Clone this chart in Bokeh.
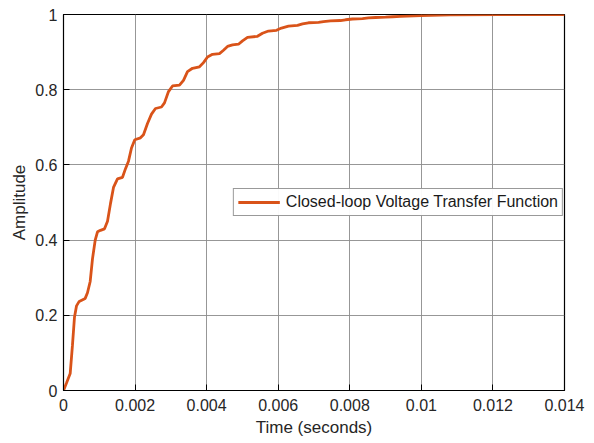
from bokeh.plotting import figure
from bokeh.models import Range1d, FixedTicker, Legend, LegendItem
from bokeh.embed import file_html
from bokeh.resources import INLINE

# Step response
time_s = [0.0, 0.000084, 0.000187, 0.00025, 0.000307, 0.000363, 0.000439, 0.000606,
          0.00067, 0.000746, 0.00081, 0.000886, 0.00095, 0.001034, 0.001146, 0.00123,
          0.001313, 0.001397, 0.001509, 0.001649, 0.001733, 0.001816, 0.0019, 0.001992,
          0.002152, 0.002235, 0.002347, 0.002459, 0.00257, 0.002738, 0.002822, 0.002934,
          0.003046, 0.003241, 0.003353, 0.003465, 0.003605, 0.0038, 0.003912, 0.004024,
          0.004164, 0.004359, 0.004471, 0.004583, 0.004723, 0.00489, 0.005002, 0.005142,
          0.00542, 0.00556, 0.005728, 0.005952, 0.006092, 0.006287, 0.006539, 0.006679,
          0.006846, 0.007126, 0.007266, 0.007461, 0.00774, 0.00788, 0.008076, 0.008355,
          0.008523, 0.008719, 0.008998, 0.009194, 0.009417, 0.009976, 0.010814, 0.012211,
          0.014]
amplitude = [0.0, 0.02, 0.045, 0.12, 0.195, 0.225, 0.237, 0.245,
             0.26, 0.29, 0.35, 0.40, 0.422, 0.426, 0.43, 0.45,
             0.497, 0.54, 0.563, 0.567, 0.59, 0.61, 0.645, 0.667,
             0.672, 0.68, 0.71, 0.735, 0.75, 0.754, 0.765, 0.795,
             0.81, 0.812, 0.825, 0.848, 0.857, 0.861, 0.872, 0.887,
             0.894, 0.896, 0.905, 0.915, 0.919, 0.921, 0.93, 0.939,
             0.942, 0.95, 0.956, 0.958, 0.964, 0.969, 0.971, 0.975,
             0.978, 0.979, 0.981, 0.983, 0.984, 0.986, 0.988, 0.989,
             0.991, 0.992, 0.993, 0.994, 0.995, 0.997, 0.999, 1.0,
             1.0]

x_ticks = [0, 0.002, 0.004, 0.006, 0.008, 0.01, 0.012, 0.014]
x_tick_labels = ["0", "0.002", "0.004", "0.006", "0.008", "0.01", "0.012", "0.014"]
y_ticks = [0, 0.2, 0.4, 0.6, 0.8, 1.0]
y_tick_labels = ["0", "0.2", "0.4", "0.6", "0.8", "1"]
series_name = "Closed-loop Voltage Transfer Function"

FONT = "Liberation Sans"

p = figure(width=594, height=443, output_backend="svg", toolbar_location=None,
           x_range=Range1d(0, 0.014), y_range=Range1d(0, 1),
           min_border_left=63, min_border_right=30, min_border_top=14,
           min_border_bottom=53)

p.outline_line_color = "black"
p.outline_line_width = 1.2

r = p.line(time_s, amplitude, line_color="#D95319", line_width=2.8)

for ax in (p.xaxis[0], p.yaxis[0]):
    ax.axis_line_color = "black"
    ax.major_tick_in = 6
    ax.major_tick_out = 0
    ax.minor_tick_line_color = None
    ax.major_label_text_font = FONT
    ax.major_label_text_font_size = "16px"
    ax.major_label_text_color = "#262626"
    ax.axis_label_text_font = FONT
    ax.axis_label_text_font_size = "17px"
    ax.axis_label_text_font_style = "normal"
    ax.axis_label_text_color = "#262626"

p.xaxis.ticker = FixedTicker(ticks=x_ticks)
p.xaxis.major_label_overrides = {t: l for t, l in zip(x_ticks, x_tick_labels)}
p.yaxis.ticker = FixedTicker(ticks=y_ticks)
p.yaxis.major_label_overrides = {t: l for t, l in zip(y_ticks, y_tick_labels)}
p.xaxis.axis_label = "Time (seconds)"
p.yaxis.axis_label = "Amplitude"
p.xaxis.major_label_standoff = 8
p.xaxis.axis_label_standoff = 4
p.yaxis.major_label_standoff = 6
p.yaxis.axis_label_standoff = 3

p.xgrid.ticker = FixedTicker(ticks=x_ticks)
p.ygrid.ticker = FixedTicker(ticks=y_ticks)
p.grid.grid_line_color = "#8c8c8c"
p.grid.grid_line_width = 1
p.grid.grid_line_alpha = 0.9

legend = Legend(items=[LegendItem(label=series_name, renderers=[r])],
                location="center_right", margin=1)
legend.border_line_color = "#333333"
legend.border_line_width = 1
legend.label_text_font = FONT
legend.label_text_font_size = "16px"
legend.label_text_color = "#1a1a1a"
legend.glyph_width = 42
legend.glyph_height = 16
legend.padding = 4
legend.spacing = 0
legend.label_standoff = 6
legend.label_height = 16
p.add_layout(legend)

open("out.html", "w").write(file_html(p, INLINE))
